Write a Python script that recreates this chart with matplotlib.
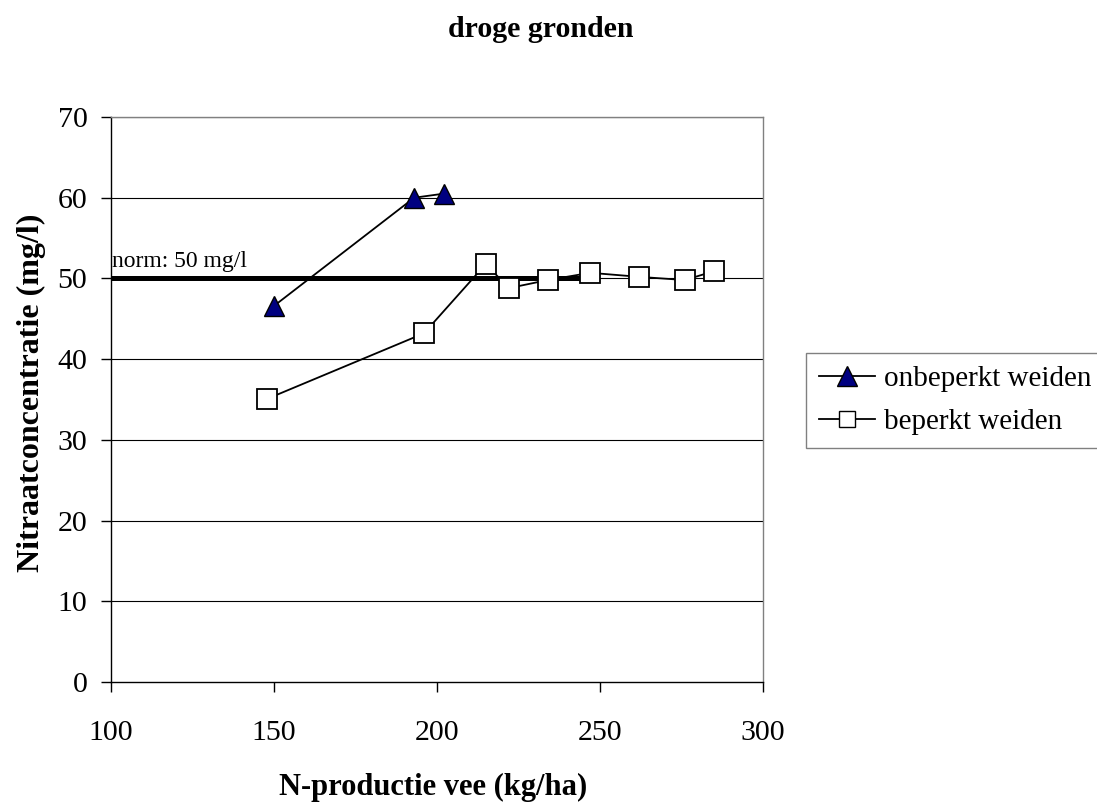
import matplotlib
matplotlib.use("Agg")
import matplotlib.pyplot as plt
from matplotlib.lines import Line2D

plt.rcParams["font.family"] = ["Liberation Serif", "DejaVu Serif"]

# onbeperkt weiden (driehoeken)
onb_x = [150, 193, 202]
onb_y = [46.6, 60.0, 60.5]

# beperkt weiden (vierkanten)
bep_x = [148, 196, 215, 222, 234, 247, 262, 276, 285]
bep_y = [35.1, 43.2, 51.8, 48.8, 49.8, 50.7, 50.2, 49.8, 50.9]

# normlijn 50 mg/l
norm_x = [100, 245]
norm_y = [50, 50]

x_ticks = [100, 150, 200, 250, 300]
y_ticks = [0, 10, 20, 30, 40, 50, 60, 70]

fig = plt.figure(figsize=(10.97, 8.02), dpi=100)
ax = fig.add_axes([0.1012, 0.1496, 0.5943, 0.7045])

for yv in y_ticks[1:]:
    ax.axhline(yv, color="black", linewidth=0.8, zorder=1)

ax.plot(norm_x, norm_y, color="black", linewidth=3.6, solid_capstyle="butt", zorder=2)
ax.text(100.3, 51.4, "norm: 50 mg/l", fontsize=17, ha="left", va="baseline")

ax.plot(onb_x, onb_y, color="black", linewidth=1.3, marker="^", markersize=15,
        markerfacecolor="#000080", markeredgecolor="black", markeredgewidth=1.0, zorder=4)
ax.plot(bep_x, bep_y, color="black", linewidth=1.3, marker="s", markersize=14,
        markerfacecolor="white", markeredgecolor="black", markeredgewidth=1.3, zorder=3)

ax.set_xlim(100, 300)
ax.set_ylim(0, 70)
ax.set_xticks(x_ticks)
ax.set_yticks(y_ticks)
ax.tick_params(direction="out", length=7, width=1.0, labelsize=21.5)
ax.tick_params(axis="x", pad=20)
ax.tick_params(axis="y", pad=10)

for s in ["top", "right"]:
    ax.spines[s].set_color("#808080")
    ax.spines[s].set_linewidth(1.0)
for s in ["left", "bottom"]:
    ax.spines[s].set_color("black")
    ax.spines[s].set_linewidth(1.0)

ax.set_xlabel("N-productie vee (kg/ha)", fontsize=22, fontweight="bold", va="center")
ax.xaxis.set_label_coords(0.494, -0.186)
ax.set_ylabel("Nitraatconcentratie (mg/l)", fontsize=23, fontweight="bold", va="center")
ax.yaxis.set_label_coords(-0.122, 0.512)
fig.text(0.493, 0.963, "droge gronden", fontsize=21.5, fontweight="bold",
         ha="center", va="center")

handles = [
    Line2D([], [], color="black", linewidth=1.3, marker="^", markersize=15,
           markerfacecolor="#000080", markeredgecolor="black"),
    Line2D([], [], color="black", linewidth=1.3, marker="s", markersize=12,
           markerfacecolor="white", markeredgecolor="black"),
]
leg = fig.legend(handles, ["onbeperkt weiden", "beperkt weiden"], loc="upper left",
                 bbox_to_anchor=(0.735, 0.56), fontsize=21, frameon=True, fancybox=False,
                 edgecolor="#606060", handlelength=1.9, handletextpad=0.3,
                 borderpad=0.45, labelspacing=0.55, borderaxespad=0)
leg.get_frame().set_linewidth(1.0)

fig.savefig("out.png", dpi=100)
